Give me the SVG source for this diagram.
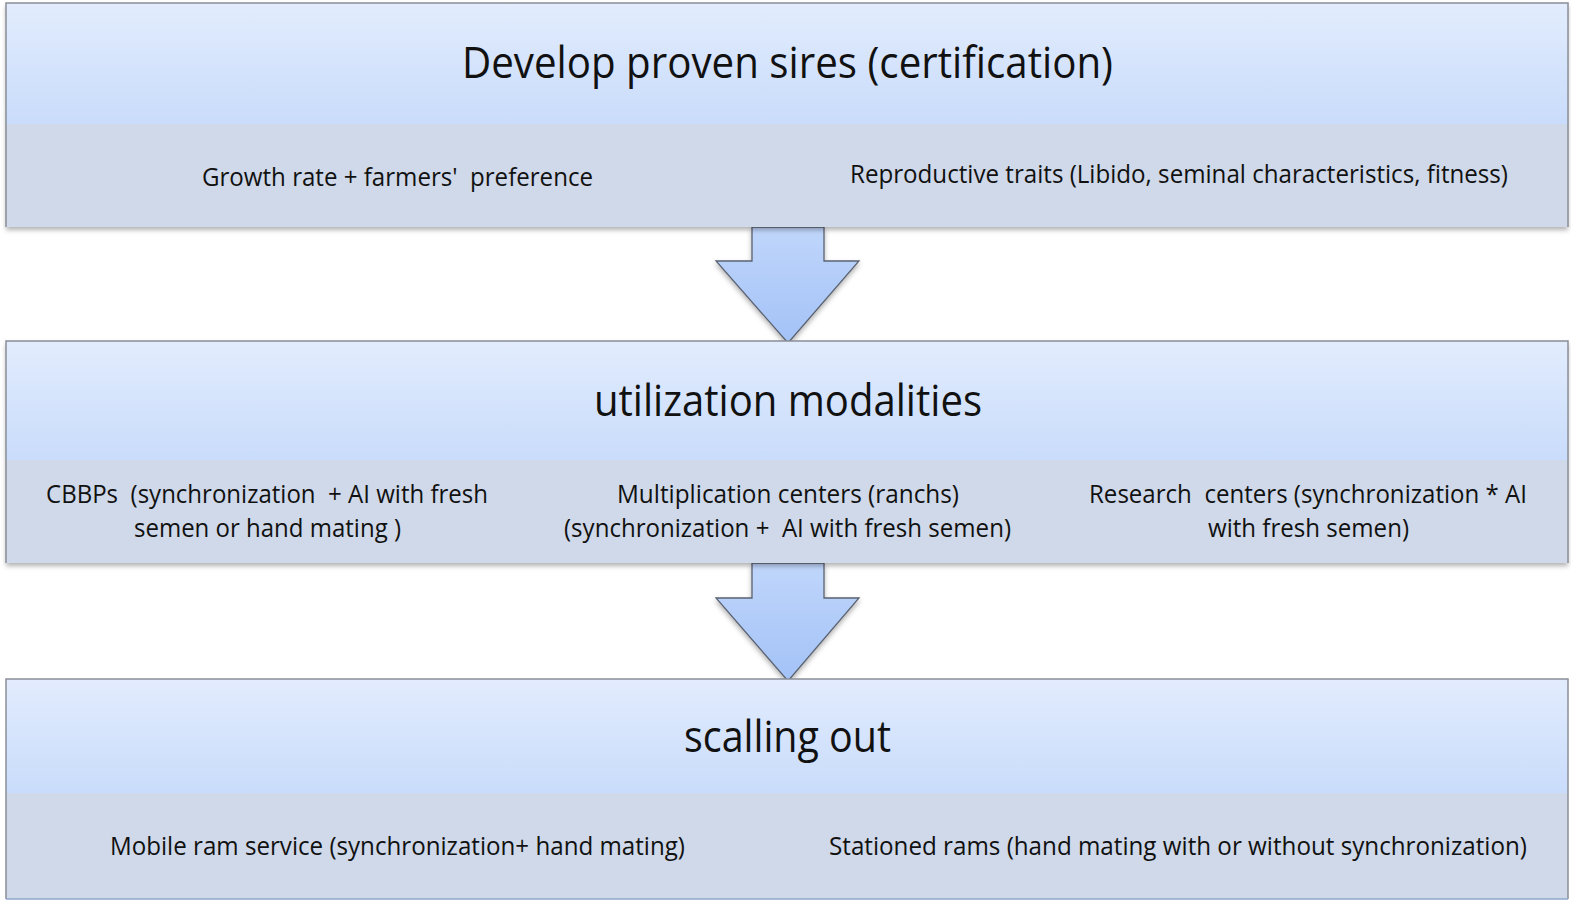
<svg xmlns="http://www.w3.org/2000/svg" width="1571" height="902" viewBox="0 0 1571 902">
<style>
.t{font-family:"Open Sans","Liberation Sans",sans-serif;fill:#111;text-anchor:start;white-space:pre}
.h{font-size:44px}
.s{font-size:26px}
.hdr{fill:url(#g)}
.sub{fill:#cfd9e9}
.frame{fill:none;stroke:#8a8f98;stroke-width:1.5}
.arr{fill:url(#ga);stroke:#5a6270;stroke-width:1.3}
</style>
<defs>
<linearGradient id="g" x1="0" y1="0" x2="0" y2="1">
<stop offset="0" stop-color="#e2ecfd"/>
<stop offset="1" stop-color="#c9dcfb"/>
</linearGradient>
<linearGradient id="ga" x1="0" y1="0" x2="0" y2="1">
<stop offset="0" stop-color="#c0d6fb"/>
<stop offset="1" stop-color="#a3c2f7"/>
</linearGradient>
<filter id="sh" x="-5%" y="-5%" width="110%" height="115%">
<feDropShadow dx="0" dy="3" stdDeviation="2.5" flood-color="#000" flood-opacity="0.3"/>
</filter>
</defs>
<rect width="1571" height="902" fill="#fff"/>
<g id="connectors">
<path class="arr" filter="url(#sh)" d="M752,227 L824,227 L824,261 L859,261 L788,343 L716,261 L752,261 Z"/>
<path class="arr" filter="url(#sh)" d="M752,563 L824,563 L824,598 L859,598 L788,681 L716,598 L752,598 Z"/>
</g>
<g id="node1">
<rect x="6" y="3" width="1562" height="224" fill="#cfd9e9" filter="url(#sh)"/>
<rect class="hdr" x="6" y="3" width="1562" height="121"/>
<rect class="sub" x="6" y="124" width="1562" height="103"/>
<path class="frame" d="M6,227 L6,3 L1568,3 L1568,227"/>
<text class="t h" x="462" y="78" textLength="651" lengthAdjust="spacingAndGlyphs">Develop proven sires (certification)</text>
<text class="t s" x="202" y="186" textLength="391" lengthAdjust="spacingAndGlyphs" xml:space="preserve">Growth rate + farmers'  preference</text>
<text class="t s" x="850" y="183" textLength="658" lengthAdjust="spacingAndGlyphs">Reproductive traits (Libido, seminal characteristics, fitness)</text>
</g>
<g id="node2">
<rect x="6" y="341" width="1562" height="222" fill="#cfd9e9" filter="url(#sh)"/>
<rect class="hdr" x="6" y="341" width="1562" height="119"/>
<rect class="sub" x="6" y="460" width="1562" height="103"/>
<path class="frame" d="M6,563 L6,341 L1568,341 L1568,563"/>
<text class="t h" x="594" y="416" textLength="388" lengthAdjust="spacingAndGlyphs">utilization modalities</text>
<text class="t s" x="46" y="503" textLength="442" lengthAdjust="spacingAndGlyphs" xml:space="preserve">CBBPs  (synchronization  + AI with fresh</text>
<text class="t s" x="134" y="537" textLength="267" lengthAdjust="spacingAndGlyphs">semen or hand mating )</text>
<text class="t s" x="617" y="503" textLength="342" lengthAdjust="spacingAndGlyphs">Multiplication centers (ranchs)</text>
<text class="t s" x="564" y="537" textLength="447" lengthAdjust="spacingAndGlyphs" xml:space="preserve">(synchronization +  AI with fresh semen)</text>
<text class="t s" x="1089" y="503" textLength="438" lengthAdjust="spacingAndGlyphs" xml:space="preserve">Research  centers (synchronization * AI</text>
<text class="t s" x="1208" y="537" textLength="201" lengthAdjust="spacingAndGlyphs">with fresh semen)</text>
</g>
<g id="node3">
<rect x="6" y="679" width="1562" height="218" fill="#cfd9e9"/>
<rect class="hdr" x="6" y="679" width="1562" height="114"/>
<rect class="sub" x="6" y="793" width="1562" height="106"/>
<path class="frame" d="M6,899 L6,679 L1568,679 L1568,899"/>
<line x1="6" y1="899" x2="1568" y2="899" stroke="#8fa6cc" stroke-width="1.5"/>
<text class="t h" x="684" y="752" textLength="207" lengthAdjust="spacingAndGlyphs">scalling out</text>
<text class="t s" x="110" y="855" textLength="575" lengthAdjust="spacingAndGlyphs">Mobile ram service (synchronization+ hand mating)</text>
<text class="t s" x="829" y="855" textLength="698" lengthAdjust="spacingAndGlyphs">Stationed rams (hand mating with or without synchronization)</text>
</g>
</svg>
